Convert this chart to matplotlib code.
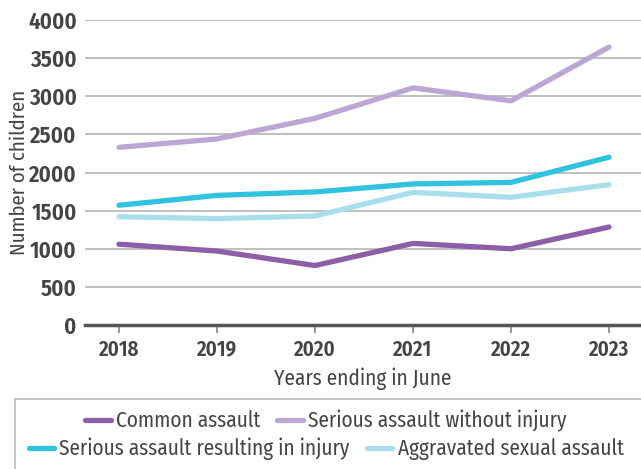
import matplotlib
matplotlib.use("Agg")
import matplotlib.pyplot as plt
from matplotlib.lines import Line2D
from matplotlib.patches import Rectangle

years = [2018, 2019, 2020, 2021, 2022, 2023]
common_assault = [1060, 970, 780, 1070, 1000, 1285]
serious_no_injury = [2330, 2440, 2710, 3110, 2940, 3645]
serious_injury = [1570, 1700, 1745, 1850, 1870, 2200]
aggravated_sexual = [1420, 1395, 1430, 1740, 1675, 1840]
series_names = ["Common assault", "Serious assault without injury",
                "Serious assault resulting in injury", "Aggravated sexual assault"]
colors = ["#8C5FA8", "#BCA6D3", "#2FC3E0", "#A7DFEC"]
yticks = [0, 500, 1000, 1500, 2000, 2500, 3000, 3500, 4000]

FONT = "Fira Sans Condensed"
TXT = "#444444"
plt.rcParams['font.family'] = [FONT, 'DejaVu Sans']

W, H = 641, 469
fig = plt.figure(figsize=(W / 100, H / 100), dpi=100)
ax = fig.add_axes([85 / W, (H - 325) / H, (641 - 85) / W, (325 - 20) / H])

for vals, c in zip([common_assault, serious_no_injury, serious_injury, aggravated_sexual], colors):
    ax.plot(years, vals, color=c, lw=3.8, solid_capstyle='round', solid_joinstyle='round', zorder=3)

ax.set_ylim(0, 4000)
ax.set_xlim(2018 - 34 / 98, 2023 + 32 / 98)
ax.set_yticks(yticks)
ax.set_xticks(years)
ax.set_yticklabels([str(v) for v in yticks], fontsize=16.5, fontweight=600, color=TXT)
ax.set_xticklabels([str(y) for y in years], fontsize=15, fontweight=600, color=TXT)
ax.tick_params(axis='y', length=0, pad=6)
ax.tick_params(axis='x', length=6, width=1.2, color='#888888', pad=4)
ax.grid(axis='y', color='#BBBBBB', lw=1.3, zorder=0)
for s in ['top', 'right', 'left']:
    ax.spines[s].set_visible(False)
ax.spines['bottom'].set_color('#555555')
ax.spines['bottom'].set_linewidth(2.5)
ax.spines['bottom'].set_zorder(4)

ax.set_ylabel("Number of children", fontsize=15, color=TXT, labelpad=-1)
ax.set_xlabel("Years ending in June", fontsize=15.3, color=TXT, labelpad=5)

# legend frame
fig.patches.append(Rectangle((15 / W, -0.05), 1.0, (H - 399) / H + 0.05, transform=fig.transFigure,
                             fill=False, edgecolor='#BBBBBB', lw=1.2))

handles = [Line2D([], [], color=c, lw=3.8, solid_capstyle='round') for c in colors]
for i, ypix in [(0, 421), (2, 449)]:
    fig.legend(handles[i:i + 2], series_names[i:i + 2], ncol=2, loc='center',
               bbox_to_anchor=(326 / W, (H - ypix) / H),
               frameon=False, fontsize=15.3, handlelength=1.2, handletextpad=0.25, columnspacing=0.8,
               labelcolor=TXT, borderpad=0)

fig.savefig("out.png", dpi=100)
